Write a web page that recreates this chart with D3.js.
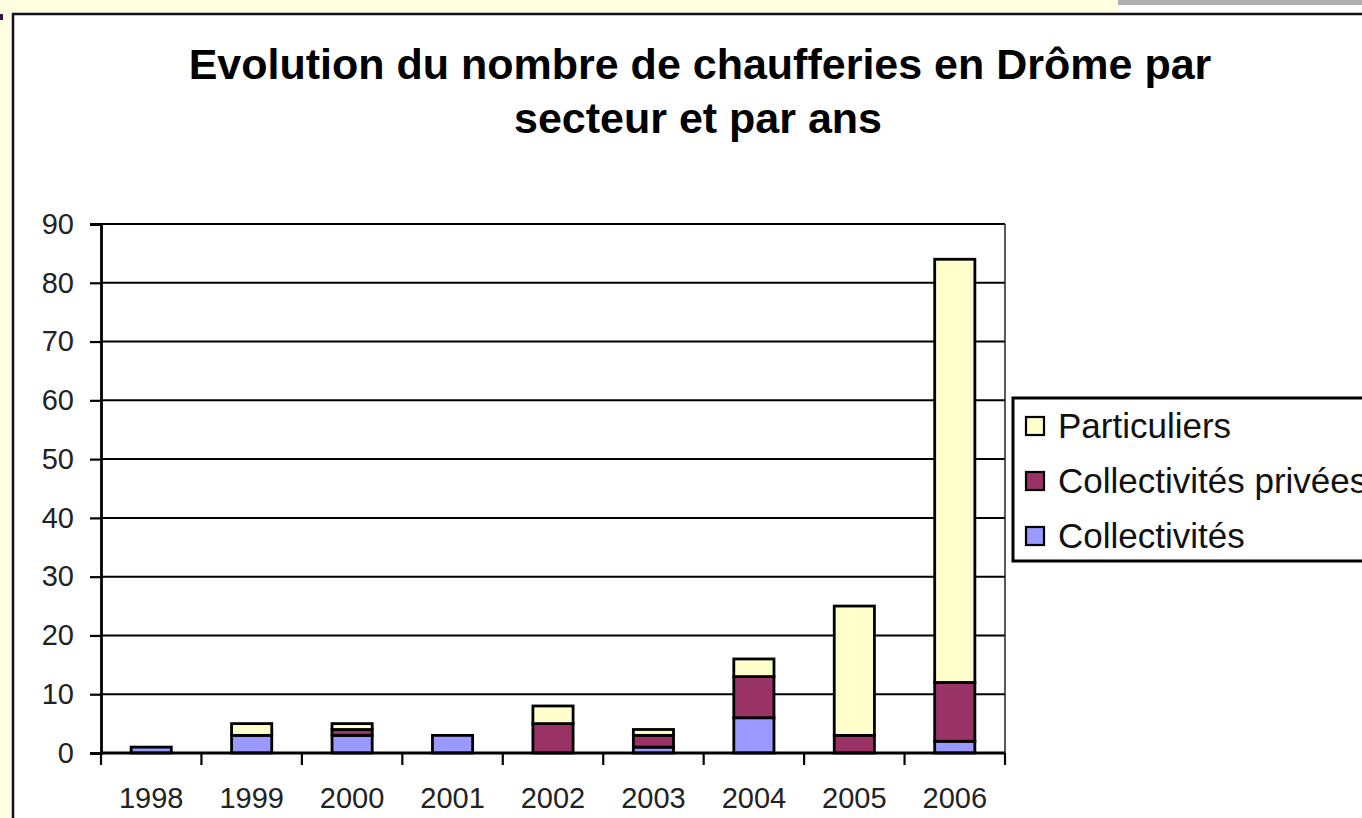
<!DOCTYPE html>
<html>
<head>
<meta charset="utf-8">
<script src="https://cdn.jsdelivr.net/npm/d3@7"></script>
<style>
  html, body { margin: 0; padding: 0; background: #fff; }
  svg { display: block; font-family: "Liberation Sans", Arial, sans-serif; }
</style>
</head>
<body>
<svg id="chart" width="1362" height="818"></svg>
<script>
// data
const years = ['1998', '1999', '2000', '2001', '2002', '2003', '2004', '2005', '2006'];
const collectivites = [1, 3, 3, 3, 0, 1, 6, 0, 2];
const collectivitesPrivees = [0, 0, 1, 0, 5, 2, 7, 3, 10];
const particuliers = [0, 2, 1, 0, 3, 1, 3, 22, 72];
const yTicks = [0, 10, 20, 30, 40, 50, 60, 70, 80, 90];

const seriesNames = ['Collectivités', 'Collectivités privées', 'Particuliers'];
const seriesColors = ['#9999ff', '#993366', '#ffffcc'];

const svg = d3.select('#chart');

// page background bits around the chart frame
svg.append('rect').attr('x', 0).attr('y', 0).attr('width', 1362).attr('height', 818).attr('fill', '#fff');
svg.append('rect').attr('x', 0).attr('y', 0).attr('width', 1118).attr('height', 11).attr('fill', '#ffffe0');
svg.append('rect').attr('x', 0).attr('y', 0).attr('width', 10).attr('height', 818).attr('fill', '#ffffe0');
svg.append('rect').attr('x', 1118).attr('y', 0).attr('width', 244).attr('height', 5).attr('fill', '#b0b0b0');
svg.append('rect').attr('x', 0).attr('y', 14).attr('width', 3).attr('height', 6).attr('fill', '#3a1040');

// chart frame
svg.append('path')
    .attr('d', 'M13,830 V14 H1375')
    .attr('fill', 'none')
    .attr('stroke', '#111')
    .attr('stroke-width', 2.5);

// title
const title = svg.append('text')
    .attr('text-anchor', 'middle')
    .attr('font-weight', 'bold')
    .attr('font-size', 43)
    .attr('fill', '#000');
title.append('tspan').attr('x', 700).attr('y', 79).text('Evolution du nombre de chaufferies en Drôme par');
title.append('tspan').attr('x', 698).attr('y', 133).text('secteur et par ans');

const plot = { left: 101, right: 1005, top: 224, bottom: 753 };

const x = d3.scaleBand()
    .domain(years)
    .range([plot.left, plot.right])
    .paddingInner(0.6)
    .paddingOuter(0.3);

const y = d3.scaleLinear().domain([0, 90]).range([plot.bottom, plot.top]);

// gridlines
svg.append('g')
    .selectAll('line')
    .data(yTicks.filter(d => d > 0))
    .join('line')
    .attr('x1', plot.left).attr('x2', plot.right)
    .attr('y1', d => y(d)).attr('y2', d => y(d))
    .attr('stroke', '#000')
    .attr('stroke-width', 2);

// right border of the plot area
svg.append('line')
    .attr('x1', plot.right).attr('x2', plot.right)
    .attr('y1', plot.top).attr('y2', plot.bottom)
    .attr('stroke', '#222').attr('stroke-width', 1.5);

// stacked bars
const rows = years.map((yr, i) => ({
    year: yr,
    'Collectivités': collectivites[i],
    'Collectivités privées': collectivitesPrivees[i],
    'Particuliers': particuliers[i]
}));
const stacked = d3.stack().keys(seriesNames)(rows);

svg.append('g')
    .selectAll('g')
    .data(stacked)
    .join('g')
    .attr('fill', (d, i) => seriesColors[i])
    .selectAll('rect')
    .data(d => d.filter(p => p[1] - p[0] > 0))
    .join('rect')
    .attr('x', d => x(d.data.year))
    .attr('y', d => y(d[1]))
    .attr('width', x.bandwidth())
    .attr('height', d => y(d[0]) - y(d[1]))
    .attr('stroke', '#000')
    .attr('stroke-width', 2.8);

// y axis
const yAxis = svg.append('g')
    .attr('transform', `translate(${plot.left},0)`)
    .call(d3.axisLeft(y).tickValues(yTicks).tickSize(11).tickPadding(16));
yAxis.select('.domain').attr('stroke', '#000').attr('stroke-width', 2.8);
yAxis.selectAll('.tick line').attr('stroke', '#000').attr('stroke-width', 2.2);
yAxis.selectAll('.tick text')
    .attr('font-size', 29)
    .attr('fill', '#222')
    .attr('font-family', '"Liberation Sans", Arial, sans-serif');

// x axis: ticks sit on category boundaries
const xAxisG = svg.append('g').attr('transform', `translate(0,${plot.bottom})`);
xAxisG.append('line')
    .attr('x1', plot.left - 1).attr('x2', plot.right)
    .attr('stroke', '#000').attr('stroke-width', 2.8);
const step = x.step();
xAxisG.selectAll('.bound')
    .data(d3.range(years.length + 1))
    .join('line')
    .attr('class', 'bound')
    .attr('x1', i => plot.left + i * step).attr('x2', i => plot.left + i * step)
    .attr('y1', 0).attr('y2', 12)
    .attr('stroke', '#000').attr('stroke-width', 2.2);
xAxisG.selectAll('text')
    .data(years)
    .join('text')
    .attr('x', d => x(d) + x.bandwidth() / 2)
    .attr('y', 55)
    .attr('text-anchor', 'middle')
    .attr('font-size', 29)
    .attr('fill', '#222')
    .text(d => d);

// legend
const legend = svg.append('g');
legend.append('rect')
    .attr('x', 1013).attr('y', 398)
    .attr('width', 400).attr('height', 163)
    .attr('fill', '#fff').attr('stroke', '#000').attr('stroke-width', 3);

const legendOrder = [2, 1, 0];
legend.selectAll('.item')
    .data(legendOrder)
    .join('g')
    .attr('class', 'item')
    .attr('transform', (d, i) => `translate(1026,${426 + i * 55})`)
    .each(function (si) {
        const g = d3.select(this);
        g.append('rect')
            .attr('x', 0).attr('y', -9)
            .attr('width', 18).attr('height', 18)
            .attr('fill', seriesColors[si])
            .attr('stroke', '#000').attr('stroke-width', 2.2);
        g.append('text')
            .attr('x', 32).attr('y', 12)
            .attr('font-size', 35)
            .attr('fill', '#111')
            .text(seriesNames[si]);
    });
</script>
</body>
</html>
